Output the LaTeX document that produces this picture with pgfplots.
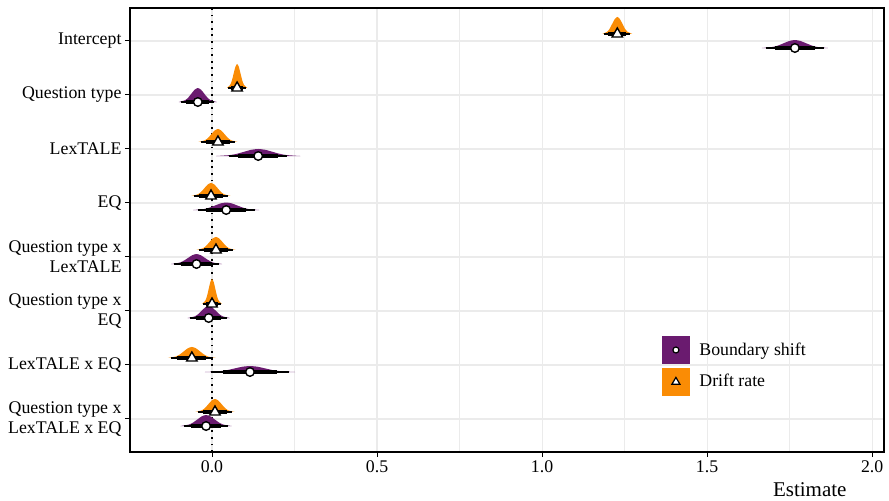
\documentclass[border=0pt]{standalone}
\usepackage{fontspec}
\setmainfont{Liberation Serif}
\usepackage{pgfplots}
\pgfplotsset{compat=1.18}
\definecolor{purp}{HTML}{6A1B6F}
\definecolor{orng}{HTML}{FA8C05}
\definecolor{gridc}{HTML}{EBEBEB}
\begin{document}
\begin{tikzpicture}
\begin{axis}[name=ax, scale only axis, width=754pt, height=444pt,
  xmin=-0.2485, xmax=2.036, ymin=0.389, ymax=8.611,
  xtick={0,0.5,1,1.5,2}, minor xtick={0.25,0.75,1.25,1.75},
  xticklabel style={/pgf/number format/fixed, /pgf/number format/fixed zerofill, /pgf/number format/precision=1},
  ytick={1,2,3,4,5,6,7,8},
  yticklabels={{Question type x\\LexTALE x EQ},{LexTALE x EQ},{Question type x\\EQ},{Question type x\\LexTALE},{EQ},{LexTALE},{Question type},{Intercept}},
  yticklabel style={align=right},
  xmajorgrids, xminorgrids, ymajorgrids,
  major grid style={gridc, line width=1.1pt},
  minor grid style={gridc, line width=0.7pt},
  tick align=outside, major tick length=5pt, minor tick length=0pt,
  tick style={black, line width=1pt},
  xtick pos=bottom, ytick pos=left,
  axis line style={black, line width=1.4pt},
  /pgf/number format/assume math mode=true,
  tick label style={font=\fontsize{17.8}{20}\selectfont},
  xlabel={Estimate},
  xlabel style={font=\fontsize{21}{24}\selectfont, at={(rel axis cs:0.955,0)}, anchor=base east, yshift=-45pt},
  legend style={at={(0.7056,0.261)}, anchor=north west, draw=none, fill=none, inner sep=0pt,
    font=\fontsize{17.8}{20}\selectfont, row sep=4pt},
  legend cell align=left,
]
% dotted zero line
\addplot[black, line width=1.8pt, dash pattern=on 1.8pt off 4.8pt, forget plot] coordinates {(0,0.389) (0,8.611)};

% slabs: Drift rate (orange)
\addplot[fill=orng, draw=none, smooth, tension=0.4, forget plot] coordinates {(1.1824,8.13)(1.1976,8.1725)(1.2052,8.2324)(1.2128,8.3212)(1.2204,8.4078)(1.228,8.445)(1.2356,8.4078)(1.2432,8.3212)(1.2508,8.2324)(1.2584,8.1725)(1.2736,8.13)};
\addplot[fill=orng, draw=none, smooth, tension=0.4, forget plot] coordinates {(0.045,7.13)(0.0553,7.19)(0.0605,7.2743)(0.0657,7.3995)(0.0708,7.5216)(0.076,7.574)(0.0812,7.5216)(0.0863,7.3995)(0.0915,7.2743)(0.0967,7.19)(0.107,7.13)};
\addplot[fill=orng, draw=none, smooth, tension=0.4, forget plot] coordinates {(-0.0413,6.13)(-0.0215,6.1625)(-0.0116,6.2083)(-0.0018,6.2763)(0.0081,6.3426)(0.018,6.371)(0.0279,6.3426)(0.0378,6.2763)(0.0476,6.2083)(0.0575,6.1625)(0.0773,6.13)};
\addplot[fill=orng, draw=none, smooth, tension=0.4, forget plot] coordinates {(-0.0623,5.13)(-0.0425,5.1625)(-0.0326,5.2083)(-0.0228,5.2763)(-0.0129,5.3426)(-0.003,5.371)(0.0069,5.3426)(0.0168,5.2763)(0.0266,5.2083)(0.0365,5.1625)(0.0563,5.13)};
\addplot[fill=orng, draw=none, smooth, tension=0.4, forget plot] coordinates {(-0.0473,4.13)(-0.0275,4.1625)(-0.0176,4.2083)(-0.0078,4.2763)(0.0021,4.3426)(0.012,4.371)(0.0219,4.3426)(0.0318,4.2763)(0.0416,4.2083)(0.0515,4.1625)(0.0713,4.13)};
\addplot[fill=orng, draw=none, smooth, tension=0.4, forget plot] coordinates {(-0.0301,3.13)(-0.0201,3.1925)(-0.015,3.2805)(-0.01,3.411)(-0.005,3.5384)(0,3.593)(0.005,3.5384)(0.01,3.411)(0.015,3.2805)(0.0201,3.1925)(0.0301,3.13)};
\addplot[fill=orng, draw=none, smooth, tension=0.4, forget plot] coordinates {(-0.134,2.13)(-0.1096,2.1575)(-0.0975,2.1963)(-0.0853,2.2538)(-0.0732,2.3099)(-0.061,2.334)(-0.0488,2.3099)(-0.0367,2.2538)(-0.0245,2.1963)(-0.0124,2.1575)(0.012,2.13)};
\addplot[fill=orng, draw=none, smooth, tension=0.4, forget plot] coordinates {(-0.0503,1.13)(-0.0305,1.1625)(-0.0206,1.2083)(-0.0108,1.2763)(-0.0009,1.3426)(0.009,1.371)(0.0189,1.3426)(0.0288,1.2763)(0.0386,1.2083)(0.0485,1.1625)(0.0683,1.13)};

% slabs: Boundary shift (purple)
\addplot[fill=purp, draw=none, smooth, tension=0.4, forget plot] coordinates {(1.6658,7.87)(1.6992,7.89)(1.7159,7.9181)(1.7326,7.9598)(1.7493,8.0005)(1.766,8.018)(1.7827,8.0005)(1.7994,7.9598)(1.8161,7.9181)(1.8328,7.89)(1.8662,7.87)};
\addplot[fill=purp, draw=none, smooth, tension=0.4, forget plot] coordinates {(-0.1005,6.87)(-0.0813,6.905)(-0.0717,6.9542)(-0.0622,7.0272)(-0.0526,7.0984)(-0.043,7.129)(-0.0334,7.0984)(-0.0239,7.0272)(-0.0143,6.9542)(-0.0047,6.905)(0.0145,6.87)};
\addplot[fill=purp, draw=none, smooth, tension=0.4, forget plot] coordinates {(0.0124,5.87)(0.0549,5.8876)(0.0762,5.9123)(0.0975,5.9489)(0.1187,5.9847)(0.14,6.0)(0.1613,5.9847)(0.1826,5.9489)(0.2038,5.9123)(0.2251,5.8876)(0.2677,5.87)};
\addplot[fill=purp, draw=none, smooth, tension=0.4, forget plot] coordinates {(-0.0572,4.87)(-0.0238,4.8888)(-0.0071,4.9152)(0.0096,4.9544)(0.0263,4.9926)(0.043,5.009)(0.0597,4.9926)(0.0764,4.9544)(0.0931,4.9152)(0.1098,4.8888)(0.1432,4.87)};
\addplot[fill=purp, draw=none, smooth, tension=0.4, forget plot] coordinates {(-0.1245,3.87)(-0.0987,3.895)(-0.0858,3.9301)(-0.0728,3.9823)(-0.0599,4.0332)(-0.047,4.055)(-0.0341,4.0332)(-0.0212,3.9823)(-0.0082,3.9301)(0.0047,3.895)(0.0305,3.87)};
\addplot[fill=purp, draw=none, smooth, tension=0.4, forget plot] coordinates {(-0.0738,2.87)(-0.0526,2.9)(-0.0419,2.9422)(-0.0313,3.0048)(-0.0206,3.0658)(-0.01,3.092)(0.0006,3.0658)(0.0113,3.0048)(0.0219,2.9422)(0.0326,2.9)(0.0538,2.87)};
\addplot[fill=purp, draw=none, smooth, tension=0.4, forget plot] coordinates {(-0.0218,1.87)(0.0238,1.885)(0.0466,1.9061)(0.0694,1.9374)(0.0922,1.9679)(0.115,1.981)(0.1378,1.9679)(0.1606,1.9374)(0.1834,1.9061)(0.2062,1.885)(0.2518,1.87)};
\addplot[fill=purp, draw=none, smooth, tension=0.4, forget plot] coordinates {(-0.0955,0.87)(-0.0697,0.8975)(-0.0568,0.9363)(-0.0438,0.9938)(-0.0309,1.0499)(-0.018,1.074)(-0.0051,1.0499)(0.0078,0.9938)(0.0208,0.9363)(0.0337,0.8975)(0.0595,0.87)};

% thin intervals
\addplot[only marks, mark=none, forget plot, error bars/.cd, x dir=both, x explicit, error mark=none, error bar style={black, line width=1.4pt}] coordinates {
(1.228,8.13) +- (0.0395,0) (0.076,7.13) +- (0.0269,0) (0.018,6.13) +- (0.0514,0) (-0.003,5.13) +- (0.0514,0)
(0.012,4.13) +- (0.0514,0) (0,3.13) +- (0.0261,0) (-0.061,2.13) +- (0.0632,0) (0.009,1.13) +- (0.0514,0)
(1.766,7.87) +- (0.0868,0) (-0.043,6.87) +- (0.0498,0) (0.14,5.87) +- (0.0881,0) (0.043,4.87) +- (0.0868,0)
(-0.047,3.87) +- (0.0672,0) (-0.01,2.87) +- (0.0553,0) (0.115,1.87) +- (0.1186,0) (-0.018,0.87) +- (0.0672,0)};
% thick intervals
\addplot[only marks, mark=none, forget plot, error bars/.cd, x dir=both, x explicit, error mark=none, error bar style={black, line width=4.4pt}] coordinates {
(1.228,8.13) +- (0.0274,0) (0.076,7.13) +- (0.0186,0) (0.018,6.13) +- (0.0356,0) (-0.003,5.13) +- (0.0356,0)
(0.012,4.13) +- (0.0356,0) (0,3.13) +- (0.0181,0) (-0.061,2.13) +- (0.0438,0) (0.009,1.13) +- (0.0356,0)
(1.766,7.87) +- (0.0601,0) (-0.043,6.87) +- (0.0345,0) (0.14,5.87) +- (0.0608,0) (0.043,4.87) +- (0.0601,0)
(-0.047,3.87) +- (0.0465,0) (-0.01,2.87) +- (0.0383,0) (0.115,1.87) +- (0.0821,0) (-0.018,0.87) +- (0.0465,0)};

% points
\addplot[only marks, mark=*, mark size=4.3pt, mark options={fill=white, draw=black, line width=1.4pt}, forget plot] coordinates {(1.766,7.87) (-0.043,6.87) (0.14,5.87) (0.043,4.87) (-0.047,3.87) (-0.01,2.87) (0.115,1.87) (-0.018,0.87)};
\addplot[only marks, mark=triangle*, mark size=6pt, mark options={fill=white, draw=black, line width=1.4pt}, forget plot] coordinates {(1.228,8.13) (0.076,7.13) (0.018,6.13) (-0.003,5.13) (0.012,4.13) (0,3.13) (-0.061,2.13) (0.009,1.13)};

% legend
\addlegendimage{legend image code/.code={\fill[purp] (0pt,-13.5pt) rectangle (27pt,13.5pt); \draw[black, fill=white, line width=1.2pt] (13.5pt,0pt) circle (3pt); \path[draw=none, fill=none] (0pt,0pt) rectangle (35pt,1pt);}}
\addlegendentry{Boundary shift}
\addlegendimage{legend image code/.code={\fill[orng] (0pt,-13.5pt) rectangle (27pt,13.5pt); \draw[black, fill=white, line width=1.2pt] (13.5pt,4pt) -- (17.5pt,-2.8pt) -- (9.5pt,-2.8pt) -- cycle; \path[draw=none, fill=none] (0pt,0pt) rectangle (35pt,1pt);}}
\addlegendentry{Drift rate}
\end{axis}
\pgfresetboundingbox
\path ([xshift=-130pt,yshift=8pt]ax.north west) rectangle ([xshift=5pt,yshift=-49pt]ax.south east);
\end{tikzpicture}
\end{document}
